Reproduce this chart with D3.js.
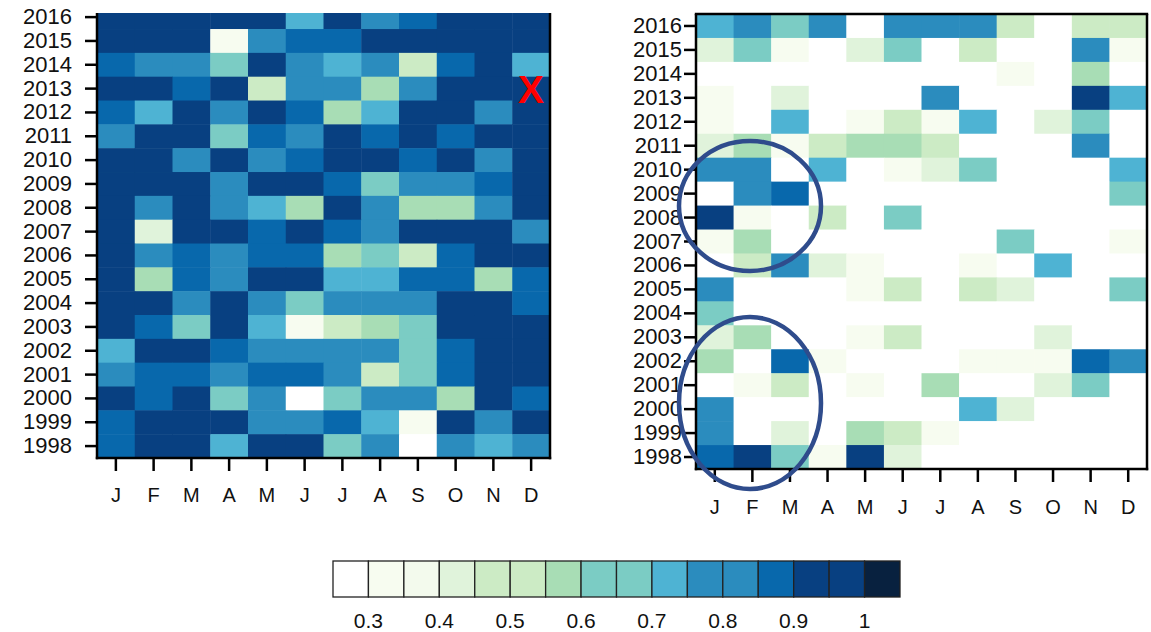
<!DOCTYPE html>
<html>
<head>
<meta charset="utf-8">
<script src="https://cdn.jsdelivr.net/npm/d3@7"></script>
<style>
  html, body { margin: 0; padding: 0; background: #fff; }
  svg { display: block; }
  text { font-family: "Liberation Sans", Arial, Helvetica, sans-serif; fill: #111; }
</style>
</head>
<body>
<svg id="chart" width="1151" height="632"></svg>
<script>
// ---------------- DATA ----------------
const months = ["J","F","M","A","M","J","J","A","S","O","N","D"];
const years = [2016,2015,2014,2013,2012,2011,2010,2009,2008,2007,2006,2005,2004,2003,2002,2001,2000,1999,1998];

// Left panel values (rows follow `years`, columns follow `months`)
const leftValues = [
  [0.92,0.92,0.92,0.92,0.92,0.72,0.92,0.77,0.87,0.92,0.92,0.92],
  [0.92,0.92,0.92,0.32,0.77,0.87,0.87,0.92,0.92,0.92,0.92,0.92],
  [0.87,0.77,0.77,0.62,0.92,0.77,0.72,0.77,0.47,0.87,0.92,0.72],
  [0.92,0.92,0.87,0.92,0.47,0.77,0.77,0.57,0.77,0.92,0.92,0.92],
  [0.87,0.72,0.92,0.77,0.92,0.87,0.57,0.72,0.92,0.92,0.77,0.92],
  [0.77,0.92,0.92,0.62,0.87,0.77,0.92,0.87,0.92,0.87,0.92,0.92],
  [0.92,0.92,0.77,0.92,0.77,0.87,0.92,0.92,0.87,0.92,0.77,0.92],
  [0.92,0.92,0.92,0.77,0.92,0.92,0.87,0.62,0.77,0.77,0.87,0.92],
  [0.92,0.77,0.92,0.77,0.72,0.57,0.92,0.77,0.57,0.57,0.77,0.92],
  [0.92,0.42,0.92,0.92,0.87,0.92,0.87,0.77,0.92,0.92,0.92,0.77],
  [0.92,0.77,0.87,0.77,0.87,0.87,0.57,0.62,0.47,0.87,0.92,0.92],
  [0.92,0.57,0.87,0.77,0.92,0.92,0.72,0.72,0.87,0.87,0.57,0.87],
  [0.92,0.92,0.77,0.92,0.77,0.62,0.77,0.77,0.77,0.92,0.92,0.87],
  [0.92,0.87,0.62,0.92,0.72,0.32,0.47,0.57,0.62,0.92,0.92,0.92],
  [0.72,0.92,0.92,0.87,0.77,0.77,0.77,0.77,0.62,0.87,0.92,0.92],
  [0.77,0.87,0.87,0.77,0.87,0.87,0.77,0.47,0.62,0.87,0.92,0.92],
  [0.92,0.87,0.92,0.62,0.77,0.27,0.62,0.77,0.77,0.57,0.92,0.87],
  [0.87,0.92,0.92,0.92,0.77,0.77,0.87,0.72,0.32,0.92,0.77,0.92],
  [0.87,0.92,0.92,0.72,0.92,0.92,0.62,0.77,0.27,0.77,0.72,0.77]
];

// Right panel values
const rightValues = [
  [0.72,0.77,0.62,0.77,0.27,0.77,0.77,0.77,0.47,0.27,0.47,0.47],
  [0.42,0.62,0.32,0.27,0.42,0.62,0.27,0.47,0.27,0.27,0.77,0.32],
  [0.27,0.27,0.27,0.27,0.27,0.27,0.27,0.27,0.32,0.27,0.57,0.27],
  [0.32,0.27,0.42,0.27,0.27,0.27,0.77,0.27,0.27,0.27,0.92,0.72],
  [0.32,0.27,0.72,0.27,0.32,0.47,0.32,0.72,0.27,0.42,0.62,0.27],
  [0.42,0.57,0.32,0.47,0.57,0.57,0.47,0.27,0.27,0.27,0.77,0.27],
  [0.77,0.77,0.27,0.72,0.27,0.32,0.42,0.62,0.27,0.27,0.27,0.72],
  [0.27,0.77,0.87,0.27,0.27,0.27,0.27,0.27,0.27,0.27,0.27,0.62],
  [0.92,0.32,0.27,0.47,0.27,0.62,0.27,0.27,0.27,0.27,0.27,0.27],
  [0.32,0.57,0.27,0.27,0.27,0.27,0.27,0.27,0.62,0.27,0.27,0.32],
  [0.27,0.47,0.77,0.42,0.32,0.27,0.27,0.32,0.27,0.72,0.27,0.27],
  [0.77,0.27,0.27,0.27,0.32,0.47,0.27,0.47,0.42,0.27,0.27,0.62],
  [0.62,0.27,0.27,0.27,0.27,0.27,0.27,0.27,0.27,0.27,0.27,0.27],
  [0.42,0.57,0.27,0.27,0.32,0.47,0.27,0.27,0.27,0.42,0.27,0.27],
  [0.57,0.27,0.87,0.32,0.27,0.27,0.27,0.32,0.32,0.32,0.87,0.77],
  [0.27,0.32,0.47,0.27,0.32,0.27,0.57,0.27,0.27,0.42,0.62,0.27],
  [0.77,0.27,0.27,0.27,0.27,0.27,0.27,0.72,0.42,0.27,0.27,0.27],
  [0.77,0.27,0.42,0.27,0.57,0.47,0.32,0.27,0.27,0.27,0.27,0.27],
  [0.87,0.92,0.62,0.32,0.92,0.42,0.27,0.27,0.27,0.27,0.27,0.27]
];

// Colour bar
const colorThresholds = [0.3,0.35,0.4,0.45,0.5,0.55,0.6,0.65,0.7,0.75,0.8,0.85,0.9,0.95,1.0];
const colorBins = ["#ffffff","#f7fcf0","#f3faed","#e0f3db","#ccebc5","#ccebc5","#a8ddb5","#7bccc4",
                   "#7bccc4","#4eb3d3","#2b8cbe","#2b8cbe","#0868ac","#084081","#084081","#08213f"];
const colorbarDomain = [0.25, 1.05];
const colorbarTicks = [0.3,0.4,0.5,0.6,0.7,0.8,0.9,1];

// ---------------- DRAW ----------------
const svg = d3.select("#chart");
const color = d3.scaleThreshold().domain(colorThresholds).range(colorBins);

function panel(cfg) {
  const g = svg.append("g");
  const x = d3.scaleBand().domain(d3.range(12)).range([cfg.x0, cfg.x1]);
  const y = d3.scaleBand().domain(years).range([cfg.bandTop, cfg.y1]);

  const clipId = "clip" + cfg.id;
  svg.append("clipPath").attr("id", clipId)
    .append("rect").attr("x", cfg.x0).attr("y", cfg.y0)
    .attr("width", cfg.x1 - cfg.x0).attr("height", cfg.y1 - cfg.y0);

  const cells = [];
  cfg.values.forEach((row, i) => row.forEach((v, j) => cells.push({year: years[i], m: j, v})));

  g.append("g").attr("clip-path", `url(#${clipId})`)
    .selectAll("rect").data(cells).join("rect")
    .attr("x", d => x(d.m)).attr("y", d => y(d.year))
    .attr("width", x.bandwidth() + 0.5).attr("height", y.bandwidth() + 0.5)
    .attr("fill", d => color(d.v));

  // y axis
  const ya = g.append("g").attr("transform", `translate(${cfg.x0},0)`)
    .call(d3.axisLeft(y).tickSize(12).tickPadding(cfg.yPad).tickSizeOuter(0));
  ya.select(".domain").remove();
  ya.selectAll(".tick line").attr("stroke", "#000").attr("stroke-width", 2.5);
  ya.selectAll(".tick text").style("font-size", "22px").attr("fill", "#111");

  // x axis
  const xa = g.append("g").attr("transform", `translate(0,${cfg.y1})`)
    .call(d3.axisBottom(x).tickFormat(i => months[i]).tickSize(13).tickPadding(cfg.xPad).tickSizeOuter(0));
  xa.select(".domain").remove();
  xa.selectAll(".tick line").attr("stroke", "#000").attr("stroke-width", 2.5);
  xa.selectAll(".tick text").style("font-size", "20px").attr("fill", "#111");

  // frame
  const fr = g.append("g").attr("fill", "none").attr("stroke", "#000").attr("stroke-width", 2.5);
  fr.append("line").attr("x1", cfg.x0).attr("x2", cfg.x0).attr("y1", cfg.y0).attr("y2", cfg.y1 + 1.2);
  fr.append("line").attr("x1", cfg.x0 - 1.2).attr("x2", cfg.x1 + 1.2).attr("y1", cfg.y1).attr("y2", cfg.y1);
  fr.append("line").attr("x1", cfg.x1).attr("x2", cfg.x1).attr("y1", cfg.y0).attr("y2", cfg.y1 + 1.2);
  if (cfg.topLine)
    fr.append("line").attr("x1", cfg.x0 - 1.2).attr("x2", cfg.x1 + 1.2).attr("y1", cfg.y0).attr("y2", cfg.y0);
  return {g, x, y};
}

const left = panel({id: "L", values: leftValues, x0: 97, x1: 550, y0: 13, y1: 458, bandTop: 5.2, yPad: 13, xPad: 17, topLine: false});
const right = panel({id: "R", values: rightValues, x0: 696, x1: 1147, y0: 14, y1: 469, bandTop: 14, yPad: 2, xPad: 18, topLine: true});

// Red X marker in left panel (2013, D)
left.g.append("text")
  .attr("x", left.x(11) + left.x.bandwidth() / 2)
  .attr("y", left.y(2013) + left.y.bandwidth() / 2 + 1)
  .attr("text-anchor", "middle").attr("dominant-baseline", "central")
  .style("font-size", "39px").style("font-weight", "bold").style("fill", "#ff0000")
  .text("X");

// Ellipses on right panel
const ell = svg.append("g").attr("fill", "none").attr("stroke", "#2f4c8c").attr("stroke-width", 4.5);
ell.append("ellipse").attr("cx", 750).attr("cy", 206).attr("rx", 71).attr("ry", 65);
ell.append("ellipse").attr("cx", 750).attr("cy", 403).attr("rx", 71).attr("ry", 86);

// Colour bar
const cb = d3.scaleLinear().domain(colorbarDomain).range([333, 900]);
const edges = [colorbarDomain[0], ...colorThresholds, colorbarDomain[1]];
const cbG = svg.append("g");
cbG.selectAll("rect").data(colorBins).join("rect")
  .attr("x", (d, i) => cb(edges[i])).attr("y", 561)
  .attr("width", (d, i) => cb(edges[i + 1]) - cb(edges[i])).attr("height", 36)
  .attr("fill", d => d).attr("stroke", "#222").attr("stroke-width", 1.3);
cbG.selectAll("text").data(colorbarTicks).join("text")
  .attr("x", d => cb(d)).attr("y", 628)
  .attr("text-anchor", "middle").style("font-size", "21px")
  .text(d => d3.format("")(d));
</script>
</body>
</html>
